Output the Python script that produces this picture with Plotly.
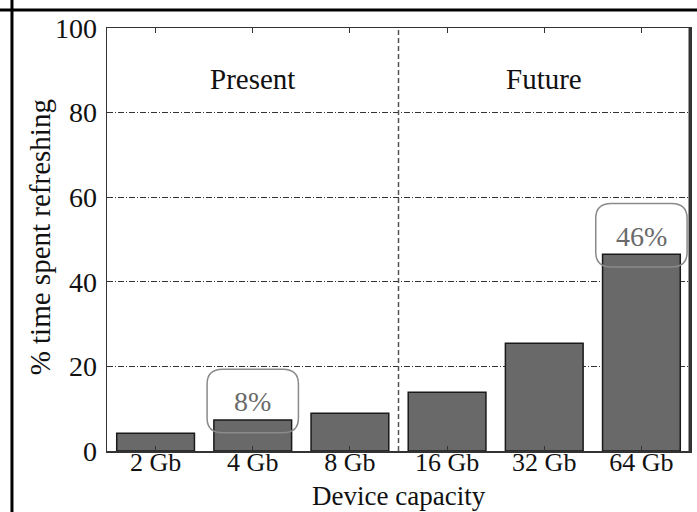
import plotly.graph_objects as go

categories = ["2 Gb", "4 Gb", "8 Gb", "16 Gb", "32 Gb", "64 Gb"]
refresh_pct = [4.2, 7.3, 8.9, 13.9, 25.5, 46.5]
highlight_idx = [1, 5]
highlight_labels = ["8%", "46%"]
era_labels = ["Present", "Future"]
era_centers = [1, 4]
y_ticks = [0, 20, 40, 60, 80, 100]

FONT = "Liberation Serif, Times New Roman, serif"
xpos = list(range(len(categories)))

fig = go.Figure()
fig.add_trace(go.Bar(
    x=xpos, y=refresh_pct, width=0.8,
    marker=dict(color="#696969", line=dict(color="#1a1a1a", width=1.5)),
    showlegend=False, hoverinfo="skip",
))

def rounded_path(x0, x1, y0, y1, rx, ry):
    return (f"M {x0+rx},{y0} L {x1-rx},{y0} Q {x1},{y0} {x1},{y0+ry} "
            f"L {x1},{y1-ry} Q {x1},{y1} {x1-rx},{y1} "
            f"L {x0+rx},{y1} Q {x0},{y1} {x0},{y1-ry} "
            f"L {x0},{y0+ry} Q {x0},{y0} {x0+rx},{y0} Z")

shapes = []
annotations = []
for i, lab in zip(highlight_idx, highlight_labels):
    v = refresh_pct[i]
    shapes.append(dict(type="path", xref="x", yref="y",
                       path=rounded_path(i - 0.47, i + 0.47, v - 3, v + 12, 0.16, 3.5),
                       line=dict(color="#8a8a8a", width=1.5), layer="above"))
    annotations.append(dict(x=i, y=v + 4.3, xref="x", yref="y", text=lab,
                            showarrow=False, font=dict(family=FONT, size=28, color="#6a6a6a")))

for lab, c in zip(era_labels, era_centers):
    annotations.append(dict(x=c, y=88, xref="x", yref="y", text=lab, showarrow=False,
                            font=dict(family=FONT, size=29, color="#111")))

# axis titles placed as annotations
annotations.append(dict(x=0.5, y=-0.1064, xref="paper", yref="paper", text="Device capacity",
                        showarrow=False, yanchor="middle",
                        font=dict(family=FONT, size=27, color="#111")))
annotations.append(dict(x=-0.115, y=0.505, xref="paper", yref="paper",
                        text="% time spent refreshing", textangle=-90,
                        showarrow=False, xanchor="center", yanchor="middle",
                        font=dict(family=FONT, size=29, color="#111")))

# divider between present and future
shapes.append(dict(type="line", xref="x", yref="y", x0=2.5, x1=2.5, y0=0, y1=100,
                   line=dict(color="#555", width=1.5, dash="5px,3px"), layer="above"))
# thick right axis
shapes.append(dict(type="line", xref="paper", yref="paper", x0=1.0, x1=1.0, y0=0, y1=1,
                   line=dict(color="#333", width=3)))
# outer frame (top and left)
shapes.append(dict(type="line", xref="paper", yref="paper", x0=-0.2, x1=1.1,
                   y0=1.0426, y1=1.0426, line=dict(color="#000", width=3)))
shapes.append(dict(type="line", xref="paper", yref="paper", x0=-0.163, x1=-0.163,
                   y0=-0.2, y1=1.1, line=dict(color="#000", width=3)))

fig.update_layout(
    width=697, height=512,
    margin=dict(l=107, r=7, t=28, b=61),
    paper_bgcolor="white", plot_bgcolor="white",
    shapes=shapes, annotations=annotations,
    font=dict(family=FONT, size=28, color="#111"),
    bargap=0.2, hovermode=False,
)
fig.update_xaxes(
    range=[-0.5, 5.5], tickvals=xpos, ticktext=categories,
    showline=True, linecolor="#333", linewidth=1.5, mirror="ticks",
    ticks="inside", ticklen=5, tickcolor="#333",
    showgrid=False, zeroline=False, automargin=False,
    tickfont=dict(family=FONT, size=26), ticklabelstandoff=-13,
)
fig.update_yaxes(
    range=[0, 100], tickvals=y_ticks, ticktext=[str(t) for t in y_ticks],
    showline=True, linecolor="#333", linewidth=1.5, mirror="ticks",
    ticks="", showgrid=True, gridcolor="#333", gridwidth=1,
    griddash="6px,2px,1px,2px", zeroline=False, automargin=False,
    tickfont=dict(family=FONT, size=28), ticklabelstandoff=3,
)
fig.write_html("out.html", config={"displayModeBar": False, "staticPlot": True},
               post_script="document.body.style.margin='0';")
